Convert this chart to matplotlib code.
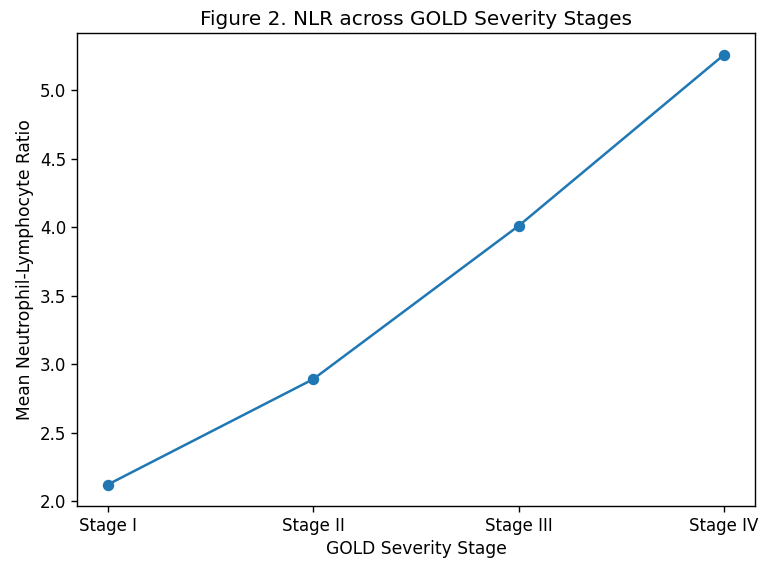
import matplotlib
matplotlib.use("Agg")
import matplotlib.pyplot as plt

# GOLD stage means
stages = ["Stage I", "Stage II", "Stage III", "Stage IV"]
nlr_means = [2.12, 2.89, 4.01, 5.26]

plt.rcParams["axes.linewidth"] = 1.0
plt.rcParams["xtick.major.width"] = 1.0
plt.rcParams["ytick.major.width"] = 1.0
plt.rcParams["xtick.major.size"] = 4.2
plt.rcParams["ytick.major.size"] = 4.2

fig = plt.figure(figsize=(7.61, 5.63), dpi=100)
ax = fig.add_axes([0.101, 0.101, 0.891, 0.840])

ax.plot(stages, nlr_means, marker="o", color="#1f77b4", linewidth=1.8, markersize=7.2)
ax.set_title("Figure 2. NLR across GOLD Severity Stages", fontsize=14.4)
ax.set_xlabel("GOLD Severity Stage", fontsize=12.3)
ax.set_ylabel("Mean Neutrophil-Lymphocyte Ratio", fontsize=12.3)
ax.tick_params(labelsize=12)

fig.savefig("out.png", dpi=100)
